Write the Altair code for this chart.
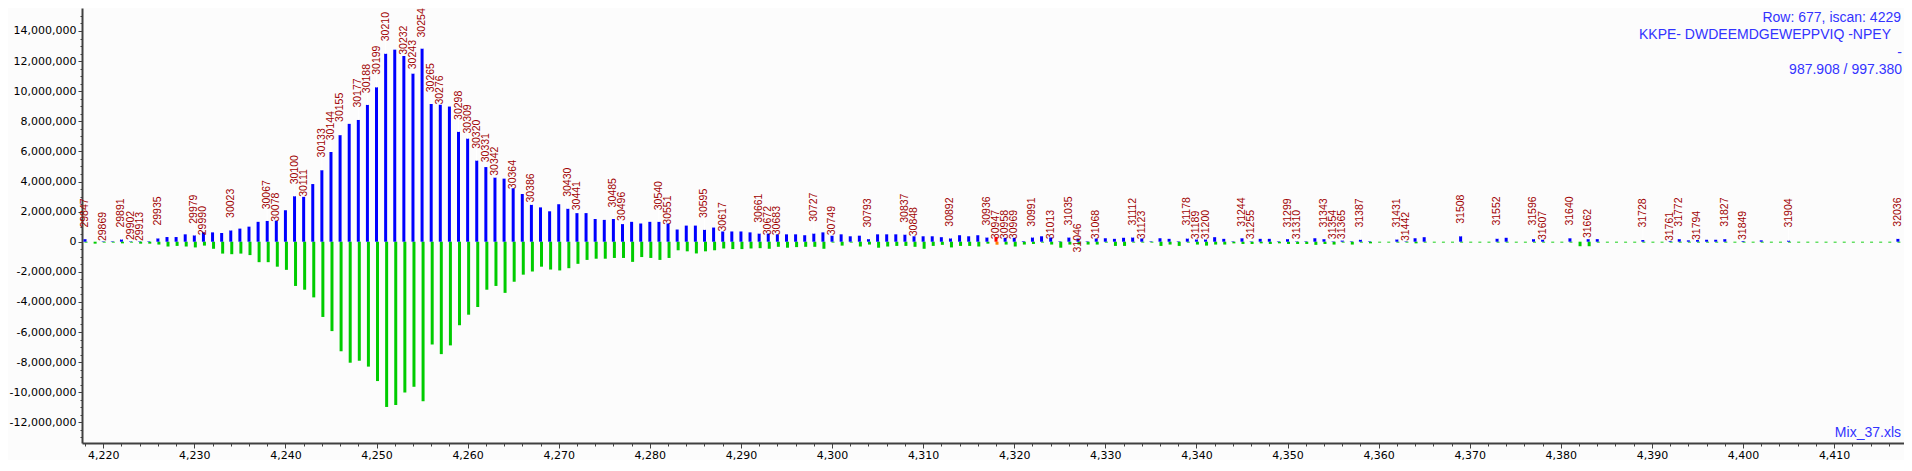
import altair as alt
import pandas as pd

# ---- data (intensities in millions) ----
N = list(range(4218, 4418))

BLUE_M = [
    0.17, 0, 0.03, 0.03, 0.15, 0.03, 0.03, 0.03, 0.22, 0.31,
    0.31, 0.49, 0.42, 0.63, 0.62, 0.58, 0.75, 0.87, 1.00, 1.32,
    1.38, 1.40, 2.09, 3.02, 2.98, 3.83, 4.75, 5.96, 7.08, 7.83,
    8.09, 9.09, 10.26, 12.49, 12.76, 12.34, 11.17, 12.83, 9.15, 9.10,
    8.98, 7.30, 6.85, 5.39, 4.96, 4.26, 4.19, 3.55, 3.17, 2.45,
    2.28, 2.02, 2.49, 2.19, 1.90, 1.90, 1.51, 1.45, 1.51, 1.17,
    1.32, 1.21, 1.32, 1.32, 1.21, 0.81, 1.07, 1.07, 0.79, 0.94,
    0.68, 0.68, 0.68, 0.62, 0.54, 0.54, 0.49, 0.49, 0.49, 0.43,
    0.54, 0.62, 0.40, 0.49, 0.36, 0.40, 0.17, 0.49, 0.49, 0.49,
    0.47, 0.36, 0.36, 0.36, 0.30, 0.22, 0.43, 0.36, 0.43, 0.28,
    0.32, 0.26, 0.26, 0.04, 0.28, 0.36, 0.28, 0.03, 0.28, 0.21,
    0.03, 0.21, 0.23, 0.19, 0.26, 0.28, 0.21, 0.03, 0.23, 0.19,
    0.03, 0.21, 0.15, 0.15, 0.30, 0.19, 0.03, 0.23, 0.03, 0.19,
    0.19, 0.03, 0.17, 0.03, 0.03, 0.23, 0.17, 0.03, 0.08, 0.03,
    0.13, 0.03, 0, 0, 0.15, 0.03, 0.23, 0.30, 0, 0,
    0, 0.36, 0, 0, 0, 0.20, 0.26, 0, 0, 0.17,
    0.13, 0, 0, 0.23, 0, 0.17, 0.17, 0, 0, 0,
    0, 0.11, 0, 0, 0.05, 0.17, 0.09, 0.11, 0.13, 0.13,
    0.17, 0, 0.05, 0, 0.09, 0, 0, 0.07, 0, 0,
    0, 0, 0, 0, 0, 0, 0, 0, 0, 0.19,
]

GREEN_M = [
    -0.06, -0.13, -0.06, -0.06, -0.11, -0.06, -0.13, -0.13, -0.19, -0.32,
    -0.28, -0.32, -0.38, -0.26, -0.47, -0.79, -0.83, -0.79, -0.89, -1.36,
    -1.36, -1.66, -1.87, -2.94, -3.19, -3.70, -5.00, -5.94, -7.28, -8.04,
    -7.91, -8.30, -9.26, -10.98, -10.85, -10.02, -9.64, -10.60, -6.83, -7.47,
    -6.89, -5.55, -4.85, -4.34, -3.19, -2.94, -3.40, -2.66, -2.19, -1.98,
    -1.66, -1.85, -1.91, -1.76, -1.47, -1.21, -1.13, -1.13, -1.08, -1.08,
    -1.34, -1.02, -1.08, -1.21, -1.08, -0.57, -0.64, -0.78, -0.64, -0.57,
    -0.45, -0.49, -0.49, -0.45, -0.43, -0.47, -0.34, -0.40, -0.36, -0.34,
    -0.34, -0.47, -0.06, -0.26, -0.06, -0.32, -0.19, -0.40, -0.32, -0.28,
    -0.28, -0.34, -0.47, -0.28, -0.21, -0.38, -0.28, -0.28, -0.32, -0.13,
    -0.20, -0.19, -0.32, -0.19, -0.15, -0.06, -0.19, -0.40, -0.19, -0.19,
    -0.19, -0.19, -0.06, -0.28, -0.28, -0.06, -0.06, -0.06, -0.28, -0.19,
    -0.28, -0.06, -0.19, -0.26, -0.19, -0.19, -0.11, -0.15, -0.15, -0.11,
    -0.15, -0.11, -0.15, -0.15, -0.15, -0.21, -0.15, -0.19, -0.06, -0.19,
    -0.06, -0.11, -0.06, -0.06, -0.06, -0.06, -0.11, -0.06, -0.06, -0.06,
    -0.06, -0.06, -0.06, -0.06, -0.06, -0.06, -0.06, -0.06, -0.06, -0.06,
    -0.06, -0.06, -0.06, -0.06, -0.30, -0.30, -0.06, -0.06, -0.06, -0.06,
    -0.06, -0.06, -0.06, -0.06, -0.06, -0.06, -0.06, -0.06, -0.06, -0.06,
    -0.06, -0.06, -0.06, -0.06, -0.06, -0.06, -0.06, -0.06, -0.06, -0.06,
    -0.06, -0.06, -0.06, -0.06, -0.06, -0.06, -0.06, -0.06, -0.06, -0.06,
]

LABELS = [
    29847, 29869, 29891, 29902, 29913, 29935, 29979, 29990, 30023, 30067,
    30078, 30100, 30111, 30133, 30144, 30155, 30177, 30188, 30199, 30210,
    30232, 30243, 30254, 30265, 30276, 30298, 30309, 30320, 30331, 30342,
    30364, 30386, 30430, 30441, 30485, 30496, 30540, 30551, 30595, 30617,
    30661, 30672, 30683, 30727, 30749, 30793, 30837, 30848, 30892, 30936,
    30947, 30958, 30969, 30991, 31013, 31035, 31046, 31068, 31112, 31123,
    31178, 31189, 31200, 31244, 31255, 31299, 31310, 31343, 31354, 31365,
    31387, 31431, 31442, 31508, 31552, 31596, 31607, 31640, 31662, 31728,
    31761, 31772, 31794, 31827, 31849, 31904, 32036,
]
# level (millions) at which each label starts, as placed in the reference
LABEL_LEVEL_M = [
    0.94, 0.04, 0.94, 0.11, 0.04, 1.07, 1.19, 0.43, 1.58, 2.15,
    1.32, 3.81, 2.98, 5.60, 6.74, 7.96, 8.91, 9.87, 11.09, 13.32,
    12.42, 11.46, 13.57, 9.93, 9.11, 8.09, 7.19, 6.17, 5.28, 4.38,
    3.49, 2.60, 2.98, 2.09, 2.28, 1.38, 2.09, 1.13, 1.58, 0.68,
    1.26, 0.43, 0.43, 1.32, 0.43, 0.94, 1.26, 0.36, 1.00, 1.07,
    0.17, 0.17, 0.17, 1.00, 0.17, 1.07, -0.72, 0.17, 1.07, 0.17,
    1.07, 0.17, 0.17, 1.00, 0.17, 0.94, 0.17, 0.94, 0.17, 0.17,
    0.94, 0.94, 0.04, 1.19, 1.07, 1.07, 0.11, 1.07, 0.24, 0.94,
    0.04, 1.00, 0.11, 1.00, 0.11, 0.94, 1.00,
]
# label 30210 belongs to peak 4251; labels advance 11 per peak
LABEL_BASE, LABEL_BASE_N, LABEL_STEP = 30210, 4251, 11
HIGHLIGHT_N = 4318

ANNOTATIONS = ["Row: 677, iscan: 4229", "KKPE- DWDEEMDGEWEPPVIQ -NPEY", "-", "987.908 / 997.380"]
FOOTER = "Mix_37.xls"

# ---- tables ----
M = 1e6
df = pd.DataFrame({
    "n": N,
    "blue": [v * M for v in BLUE_M],
    "green": [v * M for v in GREEN_M],
})
label_n = [LABEL_BASE_N + (lab - LABEL_BASE) // LABEL_STEP for lab in LABELS]
blue_lookup = dict(zip(N, BLUE_M))
ldf = pd.DataFrame({
    "lab": [str(l) for l in LABELS],
    "n": label_n,
    "level": [v * M for v in LABEL_LEVEL_M],
    "top": [blue_lookup[k] * M for k in label_n],
})

W, H = 1822, 435
x_scale = alt.Scale(domain=[4217.67, 4417.67], nice=False, zero=False)
y_scale = alt.Scale(domain=[-13.375e6, 15.528e6], nice=False, zero=False)

AX = "#404040"
FONT = "DejaVu Sans"

x_main = alt.Axis(orient="bottom", values=list(range(4220, 4411, 10)), format=",d",
                  tickSize=5, tickColor=AX, domainColor=AX, domainWidth=2,
                  labelFont=FONT, labelFontSize=11, labelColor="#000000",
                  labelPadding=1, grid=False, title=None, labelFlush=False,
                  labelOverlap=False)
x_minor = alt.Axis(orient="bottom", values=list(range(4218, 4418, 2)), tickSize=3,
                   tickColor=AX, labels=False, domain=False, grid=False, title=None)
y_main = alt.Axis(orient="left", values=list(range(-12000000, 14000001, 2000000)),
                  labelExpr="replace(format(datum.value, ',d'), '\u2212', '-')",
                  tickSize=4, tickColor=AX, domainColor=AX, domainWidth=2,
                  labelFont=FONT, labelFontSize=11, labelColor="#000000",
                  labelPadding=2, grid=False, title=None, labelOverlap=False)
y_minor = alt.Axis(orient="left", values=list(range(-13000000, 15000001, 500000)),
                   tickSize=2, tickColor=AX, labels=False, domain=False, grid=False,
                   title=None)

minor = alt.Chart(df).mark_point(opacity=0).encode(
    x=alt.X("n:Q", scale=x_scale, axis=x_minor),
    y=alt.Y("blue:Q", scale=y_scale, axis=y_minor),
)

green = alt.Chart(df).mark_rule(strokeWidth=3, xOffset=1).encode(
    x=alt.X("n:Q", scale=x_scale, axis=None),
    y=alt.Y("green:Q", scale=y_scale, axis=None),
    y2=alt.datum(0),
    color=alt.condition(alt.datum.n == HIGHLIGHT_N, alt.value("#ff8000"), alt.value("#00cc00")),
)

blue = alt.Chart(df).mark_rule(strokeWidth=3).encode(
    x=alt.X("n:Q", scale=x_scale, axis=x_main),
    y=alt.Y("blue:Q", scale=y_scale, axis=y_main),
    y2=alt.datum(0),
    color=alt.condition(alt.datum.n == HIGHLIGHT_N, alt.value("#ff0000"), alt.value("#0000ff")),
)

leaders = alt.Chart(ldf).transform_filter("datum.level > datum.top").mark_rule(
    color="#ffffff", strokeWidth=1).encode(
    x=alt.X("n:Q", scale=x_scale, axis=None),
    y=alt.Y("top:Q", scale=y_scale, axis=None),
    y2="level:Q",
)

labels = alt.Chart(ldf).mark_text(
    angle=270, align="left", baseline="middle", font="Liberation Sans",
    fontSize=10.5, color="#a00000").encode(
    x=alt.X("n:Q", scale=x_scale, axis=None),
    y=alt.Y("level:Q", scale=y_scale, axis=None),
    text="lab:N",
)

ann_layers = []
ann_pos = [(1819, 10), (1809, 27), (1820, 44.5), (1820, 62)]
for line, (ax_, ay_) in zip(ANNOTATIONS, ann_pos):
    ann_layers.append(
        alt.Chart(pd.DataFrame({"t": [line]})).mark_text(
            align="right", baseline="middle", font="Liberation Sans", fontSize=14,
            color="#3333ff").encode(x=alt.value(ax_), y=alt.value(ay_), text="t:N")
    )
ann_layers.append(
    alt.Chart(pd.DataFrame({"t": [FOOTER]})).mark_text(
        align="right", baseline="middle", font="Liberation Sans", fontSize=14,
        color="#3333ff").encode(x=alt.value(1819), y=alt.value(425), text="t:N")
)

chart = alt.layer(minor, green, blue, leaders, labels, *ann_layers).resolve_axis(
    x="independent", y="independent"
).properties(
    width=W, height=H,
    padding={"left": 74, "top": 0, "right": 0, "bottom": 17},
    autosize=alt.AutoSizeParams(type="none"),
    background="#fcfcfc",
).configure_view(stroke=None)

chart.save("out.html", embed_options={"renderer": "svg", "actions": False})
